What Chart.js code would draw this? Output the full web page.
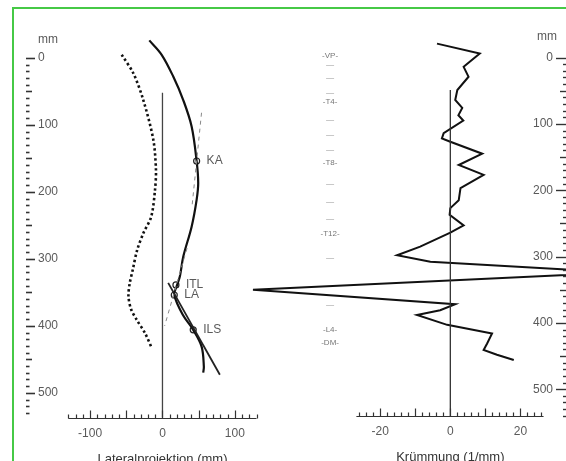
<!DOCTYPE html>
<html>
<head>
<meta charset="utf-8">
<script src="https://cdn.jsdelivr.net/npm/chart.js@4.4.0/dist/chart.umd.min.js"></script>
<style>
  html, body { margin: 0; padding: 0; background: #fff; }
  #wrap { position: relative; width: 566px; height: 461px; overflow: hidden; }
  #frame { position: absolute; left: 12px; top: 7px; width: 600px; height: 500px;
           border-left: 2px solid #46c946; border-top: 2px solid #46c946; }
  #c1 { position: absolute; left: 0; top: 0; }
  #c2 { position: absolute; left: 240px; top: 0; }
</style>
</head>
<body>
<div id="wrap">
  <div id="frame"></div>
  <canvas id="c1" width="283" height="461"></canvas>
  <canvas id="c2" width="326" height="461"></canvas>
</div>
<script>
// Wirbelsäule, Lateralprojektion (mm)
const spineX = [-18.2, -1.1, 14.9, 28.7, 40.3, 47.2, 49.4, 47.2, 40.3, 28.7, 24.1, 19.6, 16.3, 28.3, 42.5, 54.1, 57.2, 56.3]
const spineY = [-26, -4.5, 28, 63, 102.5, 154, 187, 212, 252, 297, 326, 341, 354, 384, 406, 431, 461, 470]

// gepunktete Kurve
const dotX = [-56.3, -40.3, -26.5, -12.7, -9, -10.3, -15.5, -26.5, -35, -41, -45.5, -47, -43.5, -35.6, -24.1, -14.9]
const dotY = [-4.5, 23, 63, 122, 167, 197, 237, 262, 287, 316, 338, 356, 375, 391, 411, 433]

// markierte Punkte
const markNames = ['KA', 'ITL', 'LA', 'ILS']
const markX = [47.2, 18.6, 16.3, 42.5]
const markY = [154, 339, 354, 406]

// Tangenten
const tangentX = [7.9, 79.3]
const tangentY = [336, 473]
const dash1X = [54, 41]
const dash1Y = [82, 220]
const dash2X = [34, 3]
const dash2Y = [284, 400]

// Krümmung (1/mm)
const curvX = [-3.8, 8.4, 3.8, 5.2, 2.0, 1.4, 3.4, 2.3, 3.7, -1.9, -2.4, 0, 9.1, 2.4, 9.5, 2.9, 2.4, 0, -0.2, 3.8, 0, -8.6, -15.2, -5.7, 48, -56.3, 1.4, -2.9, -9.5, -0.9, 11.9, 10.5, 9.5, 13.3, 18.1]
const curvY = [-21, -6, 14, 29, 49, 64, 76, 87, 95, 114, 122, 127, 145, 162, 177, 197, 215, 227, 237, 253, 264, 285, 298, 308, 324, 350, 372, 381, 388, 403, 416, 431, 441, 448, 456]

// Wirbel
const vertNames = ['-VP-', '-T4-', '-T8-', '-T12-', '-L4-', '-DM-']
const vertPos = [-2, 67, 159, 265, 410, 430]
const vertMarks = [12, 31, 54, 94, 117, 140, 191, 218, 244, 302, 373]

// Achsen
const leftYLabels = [0, 100, 200, 300, 400, 500]
const leftXLabels = [-100, 0, 100]
const rightYLabels = [0, 100, 200, 300, 400, 500]
const rightXLabels = [-20, 0, 20]

const pts = (xs, ys) => xs.map((v, i) => ({ x: v, y: ys[i] }))

const font = '"Liberation Sans", Arial, sans-serif'
const grey = '#5a5a5a'

function seg(ctx, x1, y1, x2, y2) {
  ctx.beginPath(); ctx.moveTo(x1, y1); ctx.lineTo(x2, y2); ctx.stroke()
}

// Achsen im Stil eines Lineals
const rulerLeft = {
  id: 'rulerLeft',
  afterDraw(chart) {
    const { ctx, scales: { x, y } } = chart
    ctx.save()
    ctx.strokeStyle = '#333'
    ctx.lineWidth = 1.6
    for (let v = 0; v <= 530; v += 10) {
      const py = Math.round(y.getPixelForValue(v)) + 0.5
      const len = v % 100 === 0 ? 9 : (v % 50 === 0 ? 6 : 3.5)
      seg(ctx, 26, py, 26 + len, py)
    }
    ctx.fillStyle = grey
    ctx.font = '12px ' + font
    ctx.textBaseline = 'middle'
    ctx.textAlign = 'left'
    leftYLabels.forEach(v => ctx.fillText(String(v), 38, y.getPixelForValue(v)))
    ctx.fillText('mm', 38, 40)

    const base = Math.round(y.getPixelForValue(537)) + 0.5
    ctx.lineWidth = 1.2
    seg(ctx, x.getPixelForValue(-130), base, x.getPixelForValue(130), base)
    for (let v = -130; v <= 130; v += 10) {
      const px = Math.round(x.getPixelForValue(v)) + 0.5
      const len = v % 50 === 0 ? 8 : 4
      seg(ctx, px, base, px, base - len)
    }
    ctx.textAlign = 'center'
    leftXLabels.forEach(v => ctx.fillText(String(v), x.getPixelForValue(v), base + 15))
    ctx.font = '13px ' + font
    ctx.fillStyle = '#333'
    ctx.fillText('Lateralprojektion (mm)', x.getPixelForValue(0), base + 41)

    // Punktbeschriftungen
    ctx.font = '12px ' + font
    ctx.fillStyle = grey
    ctx.textAlign = 'left'
    markNames.forEach((n, i) => {
      ctx.fillText(n, x.getPixelForValue(markX[i]) + 10, y.getPixelForValue(markY[i]))
    })
    ctx.restore()
  }
}

const rulerRight = {
  id: 'rulerRight',
  afterDraw(chart) {
    const { ctx, scales: { x, y } } = chart
    const w = chart.width
    ctx.save()
    ctx.strokeStyle = '#333'
    ctx.lineWidth = 1.4
    for (let v = 0; v <= 540; v += 10) {
      const py = Math.round(y.getPixelForValue(v)) + 0.5
      const len = v % 100 === 0 ? 10 : (v % 50 === 0 ? 6 : 3)
      seg(ctx, w, py, w - len, py)
    }
    ctx.fillStyle = grey
    ctx.font = '12px ' + font
    ctx.textBaseline = 'middle'
    ctx.textAlign = 'right'
    rightYLabels.forEach(v => ctx.fillText(String(v), w - 13, y.getPixelForValue(v)))
    ctx.fillText('mm', w - 9, 37)

    const base = Math.round(y.getPixelForValue(541)) + 0.5
    ctx.lineWidth = 1.2
    seg(ctx, x.getPixelForValue(-26.8), base, x.getPixelForValue(26.6), base)
    for (let v = -26; v <= 26; v += 2) {
      const px = Math.round(x.getPixelForValue(v)) + 0.5
      const len = v % 10 === 0 ? 8 : 4
      seg(ctx, px, base, px, base - len)
    }
    ctx.textAlign = 'center'
    rightXLabels.forEach(v => ctx.fillText(String(v), x.getPixelForValue(v), base + 15))
    ctx.font = '13px ' + font
    ctx.fillStyle = '#333'
    ctx.fillText('Krümmung (1/mm)', x.getPixelForValue(0), base + 41)

    // Wirbelhöhen
    const vx = x.getPixelForValue(-34.3)
    ctx.strokeStyle = '#c8c8c8'
    ctx.lineWidth = 1
    vertMarks.forEach(v => {
      const py = Math.round(y.getPixelForValue(v)) + 0.5
      seg(ctx, vx - 4, py, vx + 4, py)
    })
    ctx.fillStyle = '#777'
    ctx.font = '8px ' + font
    vertNames.forEach((n, i) => ctx.fillText(n, vx, y.getPixelForValue(vertPos[i])))
    ctx.restore()
  }
}

new Chart(document.getElementById('c1'), {
  type: 'scatter',
  data: {
    datasets: [
      { data: [{ x: 0, y: 52 }, { x: 0, y: 537 }], showLine: true, borderColor: '#444', borderWidth: 1.3, pointRadius: 0 },
      { data: pts(dotX, dotY), showLine: true, borderColor: '#111', borderWidth: 2.6, borderDash: [2.4, 2.6], tension: 0.3, pointRadius: 0 },
      { data: pts(dash1X, dash1Y), showLine: true, borderColor: '#888', borderWidth: 1, borderDash: [4, 4], pointRadius: 0 },
      { data: pts(dash2X, dash2Y), showLine: true, borderColor: '#888', borderWidth: 1, borderDash: [4, 4], pointRadius: 0 },
      { data: pts(tangentX, tangentY), showLine: true, borderColor: '#222', borderWidth: 1.8, pointRadius: 0 },
      { data: pts(spineX, spineY), showLine: true, borderColor: '#111', borderWidth: 2.2, tension: 0.35, pointRadius: 0 },
      { data: pts(markX, markY), showLine: false, pointRadius: 3, pointBackgroundColor: '#fff', pointBorderColor: '#222', pointBorderWidth: 1.2 }
    ]
  },
  options: {
    responsive: false,
    animation: false,
    layout: { padding: { left: 25, right: 12, top: 31, bottom: 28 } },
    scales: {
      x: { type: 'linear', min: -190, max: 150, display: false },
      y: { type: 'linear', min: -40, max: 560, reverse: true, display: false }
    },
    plugins: { legend: { display: false }, tooltip: { enabled: false } }
  },
  plugins: [rulerLeft]
})

new Chart(document.getElementById('c2'), {
  type: 'scatter',
  data: {
    datasets: [
      { data: [{ x: 0, y: 49 }, { x: 0, y: 541 }], showLine: true, borderColor: '#333', borderWidth: 1.3, pointRadius: 0 },
      { data: pts(curvX, curvY), showLine: true, borderColor: '#111', borderWidth: 2, tension: 0, pointRadius: 0, clip: false }
    ]
  },
  options: {
    responsive: false,
    animation: false,
    layout: { padding: { left: 0, right: 0, top: 31, bottom: 32 } },
    scales: {
      x: { type: 'linear', min: -60, max: 33, display: false },
      y: { type: 'linear', min: -40, max: 560, reverse: true, display: false }
    },
    plugins: { legend: { display: false }, tooltip: { enabled: false } }
  },
  plugins: [rulerRight]
})
</script>
</body>
</html>
